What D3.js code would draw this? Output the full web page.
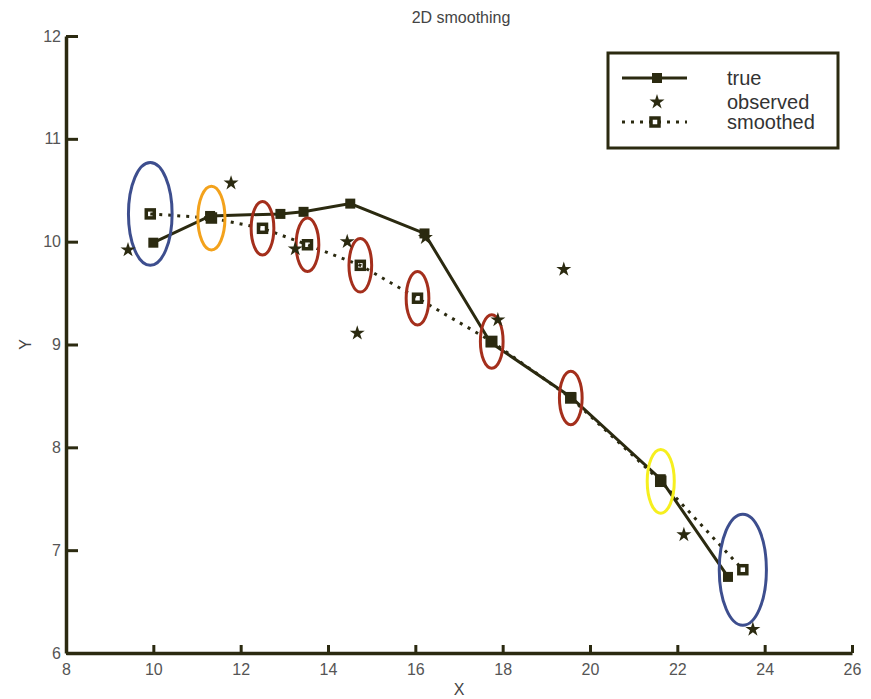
<!DOCTYPE html>
<html>
<head>
<meta charset="utf-8">
<script src="https://cdn.jsdelivr.net/npm/d3@7"></script>
<style>
  body { margin: 0; background: #fff; }
  svg { display: block; font-family: "Liberation Sans", Arial, sans-serif; }
</style>
</head>
<body>
<div id="chart"></div>
<script>
// true trajectory
const xTrue = [10.0, 11.30, 12.91, 13.44, 14.51, 16.21, 17.72, 19.56, 21.62, 23.16];
const yTrue = [9.99, 10.25, 10.27, 10.29, 10.37, 10.08, 9.02, 8.49, 7.69, 6.74];

// noisy observations
const xObs = [9.42, 11.78, 13.25, 14.44, 14.67, 16.23, 17.89, 19.40, 22.15, 23.73];
const yObs = [9.92, 10.57, 9.93, 10.00, 9.11, 10.04, 9.24, 9.73, 7.15, 6.23];

// smoothed estimates and their 1-sigma radius
const xSmooth = [9.93, 11.33, 12.50, 13.53, 14.74, 16.05, 17.75, 19.56, 21.62, 23.50];
const ySmooth = [10.27, 10.23, 10.13, 9.97, 9.77, 9.45, 9.03, 8.48, 7.67, 6.81];
const sigma = [0.50, 0.31, 0.26, 0.26, 0.26, 0.26, 0.26, 0.26, 0.31, 0.54];

const xTicks = [8, 10, 12, 14, 16, 18, 20, 22, 24, 26];
const yTicks = [6, 7, 8, 9, 10, 11, 12];
const legendLabels = ["true", "observed", "smoothed"];

const ink = "#2b2a10";
const ellipseColors = ["#3d4e8e", "#f3a21c", "#a42f1c", "#a42f1c", "#a42f1c",
                       "#a42f1c", "#a42f1c", "#a42f1c", "#f6ef1e", "#3d4e8e"];

const W = 871, H = 699;
const margin = { top: 36, right: 19, bottom: 46, left: 66 };
const width = W - margin.left - margin.right;
const height = H - margin.top - margin.bottom;

const svg = d3.select("#chart").append("svg")
    .attr("width", W)
    .attr("height", H);

const g = svg.append("g")
    .attr("transform", `translate(${margin.left},${margin.top})`);

const x = d3.scaleLinear().domain([8, 26]).range([0, width]);
const y = d3.scaleLinear().domain([6, 12]).range([height, 0]);

// title and axis labels
svg.append("text")
    .attr("x", 461).attr("y", 23)
    .attr("text-anchor", "middle")
    .attr("font-size", 16)
    .attr("fill", "#444")
    .text("2D smoothing");

svg.append("text")
    .attr("x", margin.left + x(17)).attr("y", 695)
    .attr("text-anchor", "middle")
    .attr("font-size", 16)
    .attr("fill", "#444")
    .text("X");

svg.append("text")
    .attr("transform", `translate(31,${margin.top + y(9)}) rotate(-90)`)
    .attr("text-anchor", "middle")
    .attr("font-size", 16)
    .attr("fill", "#444")
    .text("Y");

// axes
const xAxis = g.append("g")
    .attr("transform", `translate(0,${height})`)
    .call(d3.axisBottom(x).tickValues(xTicks).tickFormat(d3.format("d"))
        .tickSize(-8).tickSizeOuter(0).tickPadding(11));
const yAxis = g.append("g")
    .call(d3.axisLeft(y).tickValues(yTicks).tickFormat(d3.format("d"))
        .tickSize(-12).tickSizeOuter(0).tickPadding(5));

[xAxis, yAxis].forEach(a => {
    a.select(".domain").attr("stroke", ink).attr("stroke-width", 3.5);
    a.selectAll(".tick line").attr("stroke", ink).attr("stroke-width", 3);
    a.selectAll(".tick text")
        .attr("font-size", 16)
        .attr("fill", "#555")
        .attr("font-family", "Liberation Sans, Arial, sans-serif");
});
xAxis.selectAll(".tick text").attr("dy", "0.71em");

const trueData = xTrue.map((v, i) => ({ x: v, y: yTrue[i] }));
const obsData = xObs.map((v, i) => ({ x: v, y: yObs[i] }));
const smoothData = xSmooth.map((v, i) => ({ x: v, y: ySmooth[i], r: sigma[i] }));

const line = d3.line().x(d => x(d.x)).y(d => y(d.y));

// true path
g.append("path")
    .attr("d", line(trueData))
    .attr("fill", "none")
    .attr("stroke", ink)
    .attr("stroke-width", 3);

g.selectAll(".true-mark")
    .data(trueData)
    .join("rect")
    .attr("class", "true-mark")
    .attr("x", d => x(d.x) - 5)
    .attr("y", d => y(d.y) - 5)
    .attr("width", 10)
    .attr("height", 10)
    .attr("fill", ink);

// smoothed path (dotted)
g.append("path")
    .attr("d", line(smoothData))
    .attr("fill", "none")
    .attr("stroke", ink)
    .attr("stroke-width", 3)
    .attr("stroke-dasharray", "3,6");

g.selectAll(".smooth-mark")
    .data(smoothData)
    .join("rect")
    .attr("class", "smooth-mark")
    .attr("x", d => x(d.x) - 4)
    .attr("y", d => y(d.y) - 4)
    .attr("width", 8)
    .attr("height", 8)
    .attr("fill", "none")
    .attr("stroke", ink)
    .attr("stroke-width", 3.5);

// covariance ellipses around the smoothed estimates
g.selectAll(".cov")
    .data(smoothData)
    .join("ellipse")
    .attr("class", "cov")
    .attr("cx", d => x(d.x))
    .attr("cy", d => y(d.y))
    .attr("rx", d => x(d.x + d.r) - x(d.x))
    .attr("ry", d => y(d.y) - y(d.y + d.r))
    .attr("fill", "none")
    .attr("stroke", (d, i) => ellipseColors[i])
    .attr("stroke-width", 3);

// observations
const star = d3.symbol().type(d3.symbolStar).size(70);
g.selectAll(".obs-mark")
    .data(obsData)
    .join("path")
    .attr("class", "obs-mark")
    .attr("transform", d => `translate(${x(d.x)},${y(d.y)})`)
    .attr("d", star)
    .attr("fill", ink);

// legend
const legend = svg.append("g").attr("transform", "translate(608,53)");
legend.append("rect")
    .attr("width", 230).attr("height", 95)
    .attr("fill", "#fff")
    .attr("stroke", ink)
    .attr("stroke-width", 3);

const rowY = [25, 49, 69];
legend.append("line")
    .attr("x1", 14).attr("x2", 79).attr("y1", rowY[0]).attr("y2", rowY[0])
    .attr("stroke", ink).attr("stroke-width", 3);
legend.append("rect")
    .attr("x", 44).attr("y", rowY[0] - 5).attr("width", 10).attr("height", 10)
    .attr("fill", ink);
legend.append("path")
    .attr("transform", `translate(49,${rowY[1]})`)
    .attr("d", star)
    .attr("fill", ink);
legend.append("line")
    .attr("x1", 14).attr("x2", 79).attr("y1", rowY[2]).attr("y2", rowY[2])
    .attr("stroke", ink).attr("stroke-width", 3).attr("stroke-dasharray", "3,6");
legend.append("rect")
    .attr("x", 43).attr("y", rowY[2] - 4).attr("width", 8).attr("height", 8)
    .attr("fill", "none").attr("stroke", ink).attr("stroke-width", 3.5);

legend.selectAll(".lab")
    .data(legendLabels)
    .join("text")
    .attr("class", "lab")
    .attr("x", 119)
    .attr("y", (d, i) => rowY[i])
    .attr("dy", "0.35em")
    .attr("font-size", 20)
    .attr("fill", "#333")
    .text(d => d);
</script>
</body>
</html>
